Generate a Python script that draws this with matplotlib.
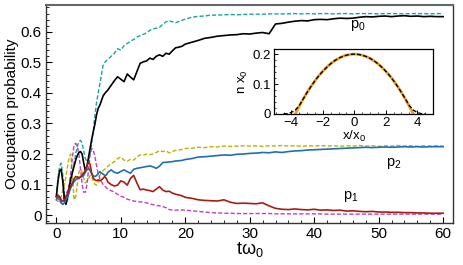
import numpy as np
import matplotlib
matplotlib.use("Agg")
import matplotlib.pyplot as plt
from matplotlib.ticker import MultipleLocator, FuncFormatter

plt.rcParams['font.family'] = ['Liberation Sans', 'DejaVu Sans']
plt.rcParams['mathtext.fontset'] = 'custom'
plt.rcParams['mathtext.rm'] = 'Liberation Sans'
plt.rcParams['mathtext.it'] = 'Liberation Sans'

# time grid
t = ([0, 0.25, 0.5, 0.75, 1.0, 1.25, 1.5, 1.75, 2.0, 2.25, 2.5, 2.75, 3.0, 3.25, 3.5, 3.75,
      4.0, 4.25, 4.5, 4.75, 5.0, 5.25, 5.5, 5.75, 6.0, 6.25, 6.5, 6.75, 7.0, 7.25, 7.5, 7.75, 8.0,
      8.5, 9, 9.5, 10, 10.5, 11, 11.5, 12, 12.5, 13, 13.5, 14, 14.5, 15, 15.5, 16, 16.5, 17, 17.5,
      18, 18.5, 19, 19.5, 20]
     + list(range(21, 61)))

p0 = [0.06, 0.11, 0.145, 0.15, 0.11, 0.05, 0.035, 0.06, 0.09, 0.12, 0.14, 0.16, 0.18, 0.195, 0.205, 0.208,
      0.2, 0.17, 0.145, 0.16, 0.19, 0.22, 0.25, 0.275, 0.3, 0.33, 0.35, 0.36, 0.375, 0.39, 0.398, 0.404, 0.41,
      0.425, 0.44, 0.453, 0.445, 0.437, 0.462, 0.452, 0.443, 0.47, 0.497, 0.502, 0.505, 0.514, 0.51, 0.52,
      0.525, 0.52, 0.53, 0.527, 0.538, 0.548, 0.55, 0.553, 0.56,
      0.566, 0.572, 0.579, 0.582, 0.586, 0.588, 0.59, 0.591, 0.594, 0.593, 0.596, 0.598, 0.594, 0.626,
      0.628, 0.632, 0.635, 0.637, 0.636, 0.64, 0.641, 0.64, 0.643, 0.645, 0.644, 0.645, 0.648, 0.65,
      0.649, 0.651, 0.652, 0.65, 0.652, 0.653, 0.651, 0.652, 0.65, 0.651, 0.65, 0.65]

p0_ref = [0.06, 0.12, 0.16, 0.17, 0.13, 0.07, 0.04, 0.05, 0.08, 0.11, 0.14, 0.17, 0.2, 0.225, 0.24, 0.245,
          0.235, 0.21, 0.185, 0.175, 0.18, 0.2, 0.24, 0.28, 0.33, 0.37, 0.4, 0.43, 0.46, 0.49, 0.5, 0.505, 0.51,
          0.52, 0.53, 0.545, 0.54, 0.555, 0.562, 0.57, 0.575, 0.583, 0.588, 0.592, 0.597, 0.605, 0.61, 0.612,
          0.615, 0.625, 0.633, 0.637, 0.633, 0.63, 0.634, 0.638, 0.642,
          0.648, 0.651, 0.652, 0.655, 0.655, 0.656, 0.657, 0.656, 0.657, 0.658, 0.658, 0.658, 0.659, 0.659,
          0.659, 0.659, 0.66, 0.659, 0.66, 0.659, 0.66, 0.66, 0.659, 0.66, 0.66, 0.659, 0.66, 0.66,
          0.66, 0.659, 0.66, 0.66, 0.66, 0.659, 0.66, 0.66, 0.66, 0.659, 0.66, 0.66]

p2_ref = [0.05, 0.045, 0.045, 0.06, 0.08, 0.1, 0.13, 0.16, 0.19, 0.2, 0.13, 0.05, 0.06, 0.1, 0.14, 0.15,
          0.14, 0.12, 0.105, 0.11, 0.12, 0.13, 0.125, 0.11, 0.1, 0.098, 0.11, 0.13, 0.14, 0.145, 0.15, 0.155, 0.16,
          0.169, 0.175, 0.185, 0.19, 0.18, 0.176, 0.183, 0.18, 0.19, 0.197, 0.196, 0.2, 0.198, 0.2, 0.205,
          0.211, 0.208, 0.21, 0.204, 0.208, 0.212, 0.213, 0.215, 0.218,
          0.219, 0.222, 0.221, 0.224, 0.223, 0.226, 0.225, 0.226, 0.227, 0.226, 0.227, 0.225, 0.227, 0.226,
          0.228, 0.226, 0.227, 0.225, 0.227, 0.226, 0.228, 0.226, 0.227, 0.225, 0.227, 0.226, 0.228, 0.226,
          0.227, 0.225, 0.227, 0.226, 0.228, 0.226, 0.227, 0.225, 0.227, 0.226, 0.227, 0.226]

p2 = [0.05, 0.06, 0.055, 0.04, 0.035, 0.04, 0.05, 0.06, 0.075, 0.09, 0.1, 0.11, 0.115, 0.12, 0.122, 0.125,
      0.126, 0.13, 0.14, 0.148, 0.153, 0.145, 0.135, 0.128, 0.126, 0.13, 0.136, 0.142, 0.138, 0.134, 0.13, 0.131, 0.14,
      0.148, 0.14, 0.137, 0.143, 0.148, 0.142, 0.137, 0.15, 0.153, 0.155, 0.157, 0.159, 0.161, 0.158, 0.153,
      0.16, 0.172, 0.173, 0.174, 0.175, 0.177, 0.178, 0.179, 0.182,
      0.185, 0.19, 0.191, 0.193, 0.195, 0.197, 0.196, 0.199, 0.2, 0.202, 0.203, 0.205, 0.204, 0.207,
      0.205, 0.208, 0.21, 0.211, 0.213, 0.214, 0.215, 0.216, 0.217, 0.218, 0.219, 0.22, 0.221, 0.222,
      0.221, 0.222, 0.223, 0.222, 0.223, 0.224, 0.223, 0.224, 0.223, 0.224, 0.224, 0.224]

p1 = [0.06, 0.065, 0.06, 0.05, 0.045, 0.05, 0.06, 0.07, 0.085, 0.095, 0.105, 0.118, 0.126, 0.125, 0.12, 0.125,
      0.13, 0.138, 0.145, 0.16, 0.175, 0.165, 0.135, 0.12, 0.115, 0.113, 0.115, 0.112, 0.115, 0.12, 0.126, 0.12, 0.108,
      0.1, 0.095, 0.098, 0.112, 0.108, 0.098, 0.12, 0.13, 0.105, 0.083, 0.085, 0.082, 0.08, 0.077, 0.085,
      0.093, 0.082, 0.077, 0.078, 0.072, 0.068, 0.066, 0.063, 0.058,
      0.055, 0.05, 0.048, 0.047, 0.046, 0.05, 0.042, 0.038, 0.039, 0.038, 0.037, 0.04, 0.03, 0.022,
      0.019, 0.018, 0.02, 0.018, 0.017, 0.019, 0.016, 0.017, 0.015, 0.016, 0.013, 0.014, 0.012, 0.011,
      0.012, 0.01, 0.01, 0.009, 0.009, 0.008, 0.008, 0.007, 0.007, 0.006, 0.006, 0.006]

p1_ref = [0.06, 0.055, 0.045, 0.04, 0.05, 0.06, 0.07, 0.08, 0.1, 0.14, 0.19, 0.23, 0.235, 0.225, 0.2, 0.15,
          0.1, 0.075, 0.075, 0.1, 0.15, 0.2, 0.218, 0.21, 0.19, 0.16, 0.135, 0.12, 0.11, 0.1, 0.095, 0.09, 0.085,
          0.08, 0.075, 0.068, 0.062, 0.058, 0.052, 0.049, 0.046, 0.044, 0.043, 0.042, 0.04, 0.037, 0.034, 0.032,
          0.03, 0.028, 0.024, 0.018, 0.016, 0.016, 0.017, 0.017, 0.016,
          0.014, 0.012, 0.01, 0.008, 0.007, 0.006, 0.006, 0.005, 0.005, 0.005, 0.005, 0.005, 0.005, 0.004,
          0.004, 0.004, 0.004, 0.004, 0.004, 0.004, 0.004, 0.003, 0.003, 0.003, 0.003, 0.003, 0.003, 0.003,
          0.003, 0.003, 0.003, 0.003, 0.003, 0.003, 0.003, 0.003, 0.003, 0.003, 0.003, 0.003]

# inset density profile
x_in = [-4.5, -4.25, -4.0, -3.75, -3.5, -3.25, -3.0, -2.75, -2.5, -2.25, -2.0, -1.75, -1.5, -1.25, -1.0,
        -0.75, -0.5, -0.25, 0.0, 0.25, 0.5, 0.75, 1.0, 1.25, 1.5, 1.75, 2.0, 2.25, 2.5, 2.75, 3.0, 3.25,
        3.5, 3.75, 4.0, 4.25, 4.5]
n_num = [0.0, 0.001, 0.005, 0.013, 0.028, 0.05, 0.072, 0.092, 0.111, 0.128, 0.143, 0.156, 0.168, 0.178, 0.186,
         0.192, 0.1965, 0.199, 0.2, 0.199, 0.1965, 0.192, 0.186, 0.178, 0.168, 0.156, 0.143, 0.128, 0.111, 0.092,
         0.072, 0.05, 0.028, 0.013, 0.005, 0.001, 0.0]
x_tf = [-3.75, -3.5, -3.25, -3.0, -2.75, -2.5, -2.25, -2.0, -1.75, -1.5, -1.25, -1.0, -0.75, -0.5, -0.25, 0.0,
        0.25, 0.5, 0.75, 1.0, 1.25, 1.5, 1.75, 2.0, 2.25, 2.5, 2.75, 3.0, 3.25, 3.5, 3.75]
n_tf = [0.0, 0.0258, 0.0498, 0.072, 0.0924, 0.111, 0.128, 0.143, 0.1564, 0.168, 0.1778, 0.1858, 0.192, 0.1964,
        0.1991, 0.2, 0.1991, 0.1964, 0.192, 0.1858, 0.1778, 0.168, 0.1564, 0.143, 0.128, 0.111, 0.0924, 0.072,
        0.0498, 0.0258, 0.0]

fig = plt.figure(figsize=(4.63, 2.65), dpi=100)
ax = fig.add_axes([0.0994, 0.1585, 0.8786, 0.8225])

dash = (0, (3, 1.5))
ax.plot(t, p0_ref, color='#1aa3a3', lw=1.0, ls=dash)
ax.plot(t, p2_ref, color='#b8b400', lw=1.0, ls=dash)
ax.plot(t, p1_ref, color='#c040c0', lw=1.0, ls=dash)
ax.plot(t, p0, color='black', lw=1.2)
ax.plot(t, p2, color='#1f6fb2', lw=1.2)
ax.plot(t, p1, color='#a51e14', lw=1.2)

fmt = FuncFormatter(lambda v, p: '0' if abs(v) < 1e-9 else f'{v:.1f}')

ax.set_xlim(-1.6, 61.5)
ax.set_ylim(-0.026, 0.688)
ax.xaxis.set_major_locator(MultipleLocator(10))
ax.xaxis.set_minor_locator(MultipleLocator(2))
ax.yaxis.set_major_locator(MultipleLocator(0.1))
ax.yaxis.set_minor_locator(MultipleLocator(0.02))
ax.yaxis.set_major_formatter(fmt)
ax.tick_params(which='both', direction='in', labelsize=11, top=False, right=False)
ax.tick_params(which='major', length=4, width=0.8, pad=3)
ax.tick_params(which='minor', length=2, width=0.6)
for s in ax.spines.values():
    s.set_color('#333333')
    s.set_linewidth(1.0)
ax.spines['top'].set_color('#666666')
ax.spines['top'].set_linewidth(1.5)

ax.set_ylabel('Occupation probability', fontsize=11, labelpad=1)
ax.set_xlabel(r'$\mathregular{t\omega_0}$', fontsize=13, labelpad=-1)

ax.text(46.8, 0.622, r'$\mathregular{p_0}$', fontsize=10.5, ha='center', va='center')
ax.text(52.3, 0.17, r'$\mathregular{p_2}$', fontsize=10.5, ha='center', va='center')
ax.text(45.6, 0.062, r'$\mathregular{p_1}$', fontsize=10.5, ha='center', va='center')

axi = fig.add_axes([0.592, 0.570, 0.343, 0.245])
axi.plot(x_tf, n_tf, color='#f0a020', lw=2.0)
axi.plot(x_in, n_num, color='black', lw=1.0, ls=dash)
axi.set_xlim(-5.1, 5.0)
axi.set_ylim(0, 0.217)
axi.xaxis.set_major_locator(MultipleLocator(2))
axi.xaxis.set_minor_locator(MultipleLocator(0.5))
axi.yaxis.set_major_locator(MultipleLocator(0.1))
axi.yaxis.set_minor_locator(MultipleLocator(0.02))
axi.yaxis.set_major_formatter(fmt)
axi.tick_params(which='both', direction='in', labelsize=9.5, top=False, right=False)
axi.tick_params(which='major', length=3, width=0.7, pad=2)
axi.tick_params(which='minor', length=1.5, width=0.5)
axi.set_xlabel(r'$\mathregular{x/x_0}$', fontsize=9.5, labelpad=0)
axi.set_ylabel(r'$\mathregular{n\ x_0}$', fontsize=9.5, labelpad=2)
for s in axi.spines.values():
    s.set_linewidth(0.9)

fig.savefig('out.png', dpi=100)
